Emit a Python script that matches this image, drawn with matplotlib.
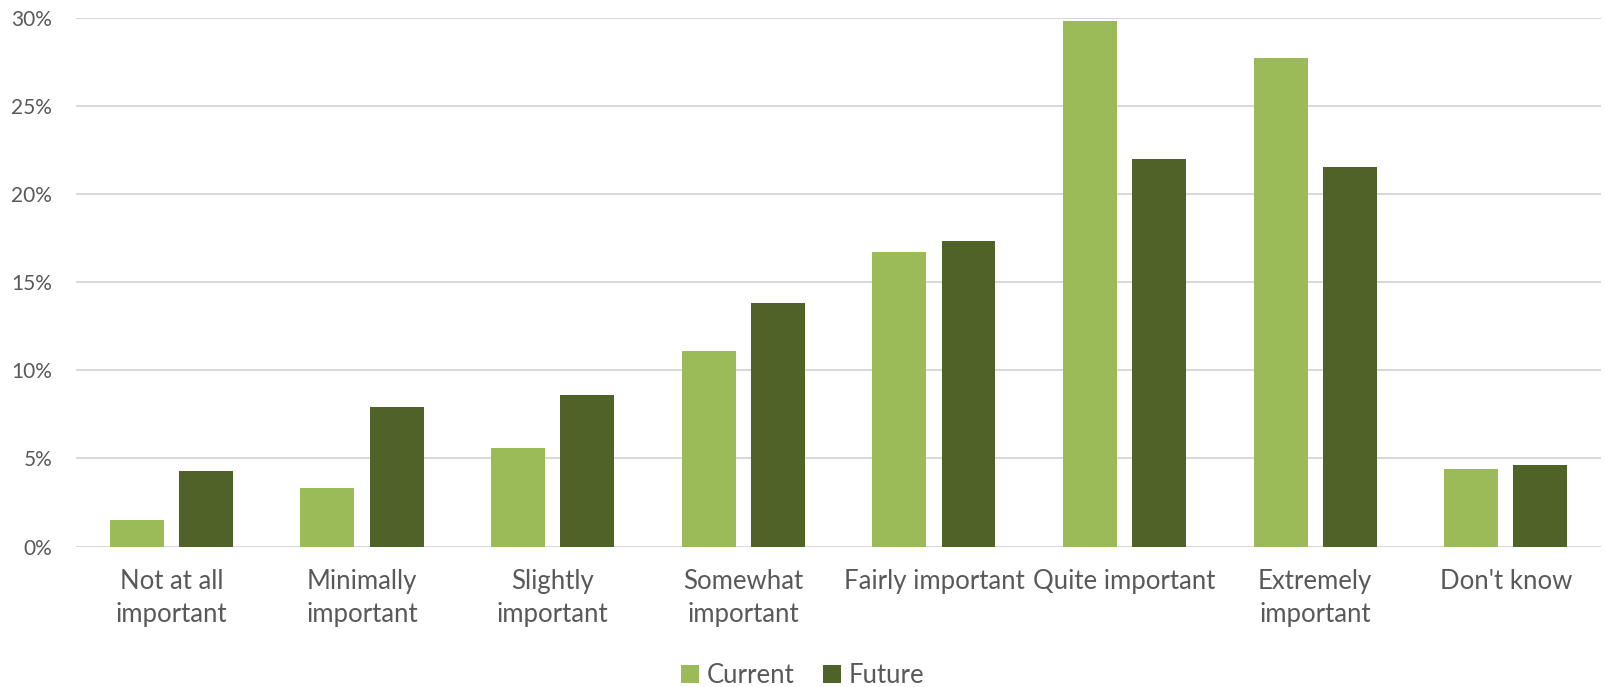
import numpy as np
import matplotlib.pyplot as plt

categories = ['Not at all\nimportant', 'Minimally\nimportant', 'Slightly\nimportant',
              'Somewhat\nimportant', 'Fairly important', 'Quite important',
              'Extremely\nimportant', "Don't know"]
current = [1.5, 3.3, 5.6, 11.1, 16.7, 29.8, 27.7, 4.4]
future = [4.3, 7.9, 8.6, 13.8, 17.3, 22.0, 21.5, 4.6]
y_ticks = [0, 5, 10, 15, 20, 25, 30]

plt.rcParams['font.family'] = ['Lato', 'DejaVu Sans']
text_color = '#595959'

fig = plt.figure(figsize=(16.06, 6.87), dpi=100)
ax = fig.add_axes([0.0473, 0.2045, 0.9497, 0.77])

x = np.arange(len(categories))
w = 0.283
off = w / 2 + 0.04
ax.bar(x - off, current, w, color='#9bbb59', label='Current', zorder=3)
ax.bar(x + off, future, w, color='#4f6228', label='Future', zorder=3)

ax.set_xlim(-0.5, len(categories) - 0.5)
ax.set_ylim(0, 30)
ax.set_yticks(y_ticks)
ax.set_yticklabels([f'{t}%' for t in y_ticks], fontsize=15, color=text_color)
ax.set_xticks(x)
ax.set_xticklabels(categories, fontsize=18.5, color=text_color, linespacing=1.4)
ax.tick_params(axis='y', length=0, pad=17)
ax.tick_params(axis='x', length=0, pad=16)

ax.grid(axis='y', color='#d9d9d9', linewidth=1.5, zorder=0)
ax.set_axisbelow(True)
for s in ax.spines.values():
    s.set_visible(False)

fig.legend(loc='lower center', bbox_to_anchor=(0.5, -0.035), ncol=2, frameon=False,
           handlelength=0.7, handleheight=0.7, handletextpad=0.3, columnspacing=1.1,
           prop={'size': 18.5}, labelcolor=text_color)

fig.savefig('out.png', dpi=100)
